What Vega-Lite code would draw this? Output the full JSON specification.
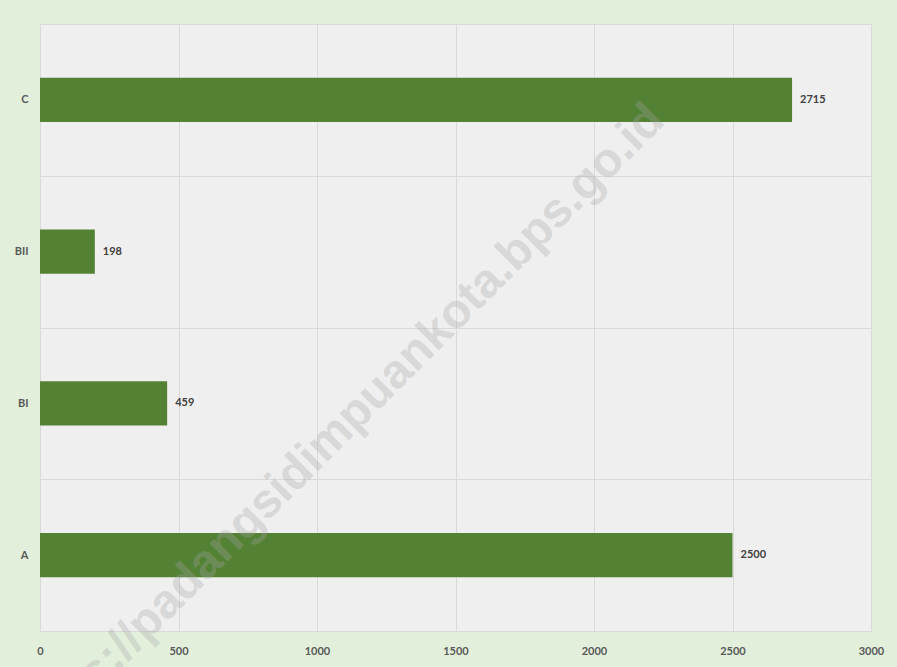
{
  "$schema": "https://vega.github.io/schema/vega-lite/v6.json",
  "width": 831,
  "height": 607,
  "padding": {"left": 40, "top": 24, "right": 26, "bottom": 36},
  "autosize": {"type": "none"},
  "background": "#e2efda",
  "config": {
    "view": {"fill": "#efefef", "stroke": "#d9d9d9", "strokeWidth": 1},
    "font": "Lato"
  },
  "datasets": {
    "bars": [
      {"kelas": "C", "jumlah": 2715},
      {"kelas": "BII", "jumlah": 198},
      {"kelas": "BI", "jumlah": 459},
      {"kelas": "A", "jumlah": 2500}
    ],
    "wm": [
      {"kelas": "C", "pos": 2180, "teks": "https://padangsidimpuankota.bps.go.id"}
    ]
  },
  "layer": [
    {
      "data": {"name": "bars"},
      "mark": {"type": "bar", "color": "#548235", "height": {"band": 0.29}},
      "encoding": {
        "y": {
          "field": "kelas",
          "type": "nominal",
          "sort": ["C", "BII", "BI", "A"],
          "scale": {"domain": ["C", "BII", "BI", "A"], "paddingInner": 0, "paddingOuter": 0},
          "axis": {
            "title": null,
            "domain": false,
            "ticks": false,
            "grid": true,
            "tickBand": "extent",
            "gridColor": "#d9d9d9",
            "gridWidth": 1,
            "labelFont": "Lato",
            "labelFontWeight": "bold",
            "labelFontSize": 11,
            "labelColor": "#595959",
            "labelPadding": 12
          }
        },
        "x": {
          "field": "jumlah",
          "type": "quantitative",
          "scale": {"domain": [0, 3000], "nice": false},
          "axis": {
            "title": null,
            "values": [0, 500, 1000, 1500, 2000, 2500, 3000],
            "format": "d",
            "domain": false,
            "ticks": false,
            "grid": true,
            "gridColor": "#d9d9d9",
            "gridWidth": 1,
            "labelFont": "Lato",
            "labelFontWeight": "bold",
            "labelFontSize": 11,
            "labelColor": "#595959",
            "labelPadding": 14,
            "labelFlush": false
          }
        }
      }
    },
    {
      "data": {"name": "bars"},
      "mark": {"type": "text", "align": "left", "baseline": "middle", "dx": 8, "font": "Lato", "fontWeight": "bold", "fontSize": 11, "color": "#404040"},
      "encoding": {
        "y": {"field": "kelas", "type": "nominal", "sort": ["C", "BII", "BI", "A"]},
        "x": {"field": "jumlah", "type": "quantitative"},
        "text": {"field": "jumlah", "type": "quantitative"}
      }
    },
    {
      "data": {"name": "wm"},
      "mark": {"type": "text", "align": "right", "baseline": "middle", "angle": -45, "dy": 18, "font": "Liberation Sans", "fontWeight": "bold", "fontSize": 48, "color": "#a6a6a6", "opacity": 0.3},
      "encoding": {
        "y": {"field": "kelas", "type": "nominal"},
        "x": {"field": "pos", "type": "quantitative"},
        "text": {"field": "teks", "type": "nominal"}
      }
    }
  ]
}
